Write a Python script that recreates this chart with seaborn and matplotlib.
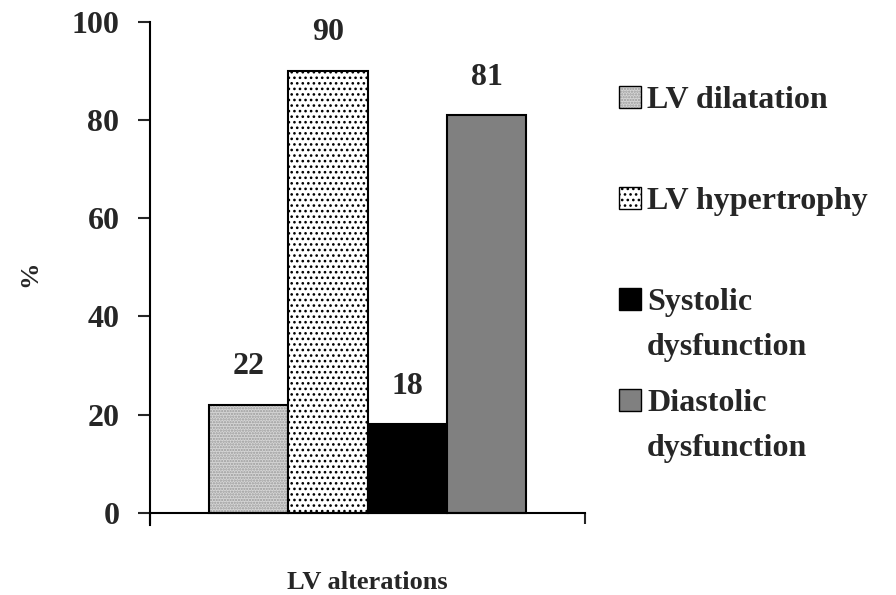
import matplotlib
matplotlib.use("Agg")
import matplotlib.pyplot as plt
import seaborn as sns
import pandas as pd
from matplotlib.patches import Patch

group = ["LV alterations"] * 4
types = ["LV dilatation", "LV hypertrophy", "Systolic dysfunction", "Diastolic dysfunction"]
values = [22, 90, 18, 81]
legend_first = ["LV dilatation", "LV hypertrophy", "Systolic", "Diastolic"]
legend_second = ["", "", "dysfunction", "dysfunction"]
colors = ["#d6d6d6", "#ffffff", "#000000", "#808080"]
hatches = ["......", "...", "", ""]
hatch_colors = ["#9a9a9a", "#000000", "#000000", "#000000"]
yticks = [0, 20, 40, 60, 80, 100]

df = pd.DataFrame({"group": group, "type": types, "value": values})

sns.set_style("white")
plt.rcParams["font.family"] = ["Liberation Serif", "DejaVu Serif"]
plt.rcParams["font.weight"] = "bold"
plt.rcParams["hatch.linewidth"] = 1.1

fig = plt.figure(figsize=(8.96, 5.95), dpi=100)
ax = fig.add_axes([150 / 896, (595 - 525) / 595, 435 / 896, 503 / 595])

sns.barplot(data=df, x="group", y="value", hue="type", hue_order=types,
            palette=colors, width=0.73, edgecolor="black", linewidth=1.5,
            ax=ax, legend=False, saturation=1)

for cont, h in zip(ax.containers, hatches):
    for p in cont.patches:
        if h:
            p.set_hatch(h)
        p.set_edgecolor("black")
    ax.bar_label(cont, fmt="%d", padding=17, fontsize=23, fontweight="bold")

for p in ax.containers[0].patches:
    p._hatch_color = matplotlib.colors.to_rgba(hatch_colors[0])

ax.set_xlim(-0.5, 0.5)
ax.set_ylim(-2.5, 100)
ax.set_yticks(yticks)
ax.set_yticklabels([str(t) for t in yticks], fontsize=23, fontweight="bold")
ax.spines["top"].set_visible(False)
ax.spines["right"].set_visible(False)
ax.spines["bottom"].set_position(("data", 0))
ax.spines["left"].set_bounds(-2.5, 100)
for s in ["left", "bottom"]:
    ax.spines[s].set_linewidth(1.5)
    ax.spines[s].set_color("black")
ax.tick_params(axis="y", direction="out", length=9, width=1.5, pad=13, left=True)
ax.tick_params(axis="x", which="major", length=0, pad=42, labelsize=19)
ax.set_xticks([-0.5, 0.5], minor=True)
ax.tick_params(axis="x", which="minor", length=8, width=1.5, bottom=True)
for lab in ax.get_xticklabels():
    lab.set_fontweight("bold")
ax.set_xlabel("")
ax.set_ylabel("%", fontsize=19, fontweight="bold", labelpad=22)

handles = []
for c, h in zip(colors, hatches):
    ph = Patch(facecolor=c, edgecolor="black", hatch=h if h else None, linewidth=1)
    handles.append(ph)
leg = fig.legend(handles, legend_first, loc="upper left",
                 bbox_to_anchor=(606 / 896, 1 - 73 / 595), frameon=False,
                 prop={"size": 23, "weight": "bold"}, handlelength=0.69,
                 handleheight=0.69, handletextpad=0.2, labelspacing=2.25,
                 borderaxespad=0)
leg.legend_handles[0]._hatch_color = matplotlib.colors.to_rgba(hatch_colors[0])

fig.canvas.draw()
renderer = fig.canvas.get_renderer()
for txt, second in zip(leg.get_texts(), legend_second):
    if second:
        bb = txt.get_window_extent(renderer)
        x0 = bb.x0 / fig.bbox.width
        y0 = (bb.y0 - 45) / fig.bbox.height
        fig.text(x0, y0, second, fontsize=23, fontweight="bold", ha="left", va="bottom")

fig.savefig("out.png", dpi=100, facecolor="white")
